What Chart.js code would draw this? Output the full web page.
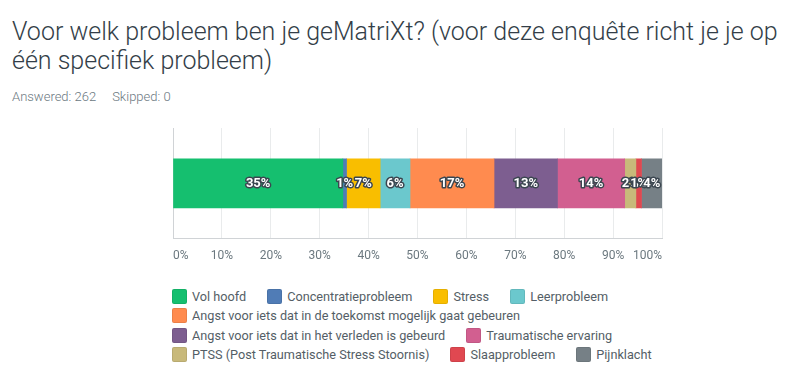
<!DOCTYPE html>
<html>
<head>
<meta charset="utf-8">
<script src="https://cdn.jsdelivr.net/npm/chart.js@4"></script>
<style>
  body { margin: 0; background: #fff; font-family: Roboto, sans-serif; }
  #title { position: absolute; left: 12px; top: 17px; font-size: 25px; font-weight: 300; line-height: 29px; color: #333e48; white-space: nowrap; }
  #sub { position: absolute; left: 12px; top: 89px; font-size: 13px; font-weight: 300; color: #6b787f; white-space: nowrap; }
  #sub span { margin-right: 16px; }
  #wrap { position: absolute; left: 150px; top: 120px; width: 530px; height: 153px; }
  #legend { position: absolute; left: 172px; top: 287px; width: 535px; display: flex; flex-wrap: wrap; }
  .item { display: flex; align-items: center; height: 19.3px; margin-right: 21px; font-size: 12.7px; color: #545e66; white-space: nowrap; }
  .box { width: 15px; height: 15px; border-radius: 2px; margin-right: 5px; box-sizing: border-box; border: 1px solid rgba(0,0,0,0.08); }
</style>
</head>
<body>
<div id="title">Voor welk probleem ben je geMatriXt? (voor deze enquête richt je je op<br>één specifiek probleem)</div>
<div id="sub"><span>Answered: 262</span><span>Skipped: 0</span></div>
<div id="wrap"><canvas id="chart"></canvas></div>
<div id="legend"></div>
<script>
// antwoorden (percentage van 262)
const categories = [
    'Vol hoofd',
    'Concentratieprobleem',
    'Stress',
    'Leerprobleem',
    'Angst voor iets dat in de toekomst mogelijk gaat gebeuren',
    'Angst voor iets dat in het verleden is gebeurd',
    'Traumatische ervaring',
    'PTSS (Post Traumatische Stress Stoornis)',
    'Slaapprobleem',
    'Pijnklacht'
];
const percentages = [34.73, 0.76, 6.87, 6.11, 17.18, 12.98, 13.74, 2.29, 1.15, 4.20];
const colors = ['#15bf6f', '#507cb6', '#f9be00', '#6bc8cd', '#ff8b4f', '#7d5e90', '#d25f90', '#c8b97a', '#e04851', '#768086'];
const tickValues = [0, 10, 20, 30, 40, 50, 60, 70, 80, 90, 100];

// labels in het midden van elk stuk
const segmentLabels = {
    id: 'segmentLabels',
    afterDatasetsDraw(chart) {
        const ctx = chart.ctx;
        ctx.save();
        ctx.font = 'bold 13px Roboto';
        ctx.textAlign = 'center';
        ctx.textBaseline = 'middle';
        ctx.lineJoin = 'round';
        chart.data.datasets.forEach((ds, i) => {
            const bar = chart.getDatasetMeta(i).data[0];
            const x = (bar.x + bar.base) / 2;
            const text = Math.round(ds.data[0]) + '%';
            ctx.lineWidth = 3;
            ctx.strokeStyle = '#3b4650';
            ctx.strokeText(text, x, bar.y);
            ctx.fillStyle = '#fff';
            ctx.fillText(text, x, bar.y);
        });
        ctx.restore();
    }
};

new Chart(document.getElementById('chart'), {
    type: 'bar',
    data: {
        labels: [''],
        datasets: categories.map((c, i) => ({
            label: c,
            data: [percentages[i]],
            backgroundColor: colors[i],
            barThickness: 49
        }))
    },
    options: {
        indexAxis: 'y',
        responsive: true,
        maintainAspectRatio: false,
        animation: false,
        layout: { padding: { left: 23, right: 18, top: 8, bottom: 0 } },
        plugins: {
            legend: { display: false },
            tooltip: { enabled: false }
        },
        scales: {
            x: {
                stacked: true,
                min: 0,
                max: 100,
                afterBuildTicks: axis => { axis.ticks = tickValues.map(v => ({ value: v })); },
                grid: {
                    drawTicks: false,
                    color: ctx => ctx.index === 0 ? '#d0d3d6' : '#e9ebec'
                },
                border: { color: '#d0d3d6' },
                ticks: {
                    padding: 10,
                    align: 'inner',
                    color: '#6b787f',
                    font: { family: 'Roboto', size: 12 },
                    callback: v => v + '%'
                }
            },
            y: {
                stacked: true,
                display: false
            }
        }
    },
    plugins: [segmentLabels]
});

// legenda
const legend = document.getElementById('legend');
categories.forEach((c, i) => {
    const item = document.createElement('div');
    item.className = 'item';
    item.innerHTML = '<span class="box" style="background:' + colors[i] + '"></span>' + c;
    legend.appendChild(item);
});
</script>
</body>
</html>
